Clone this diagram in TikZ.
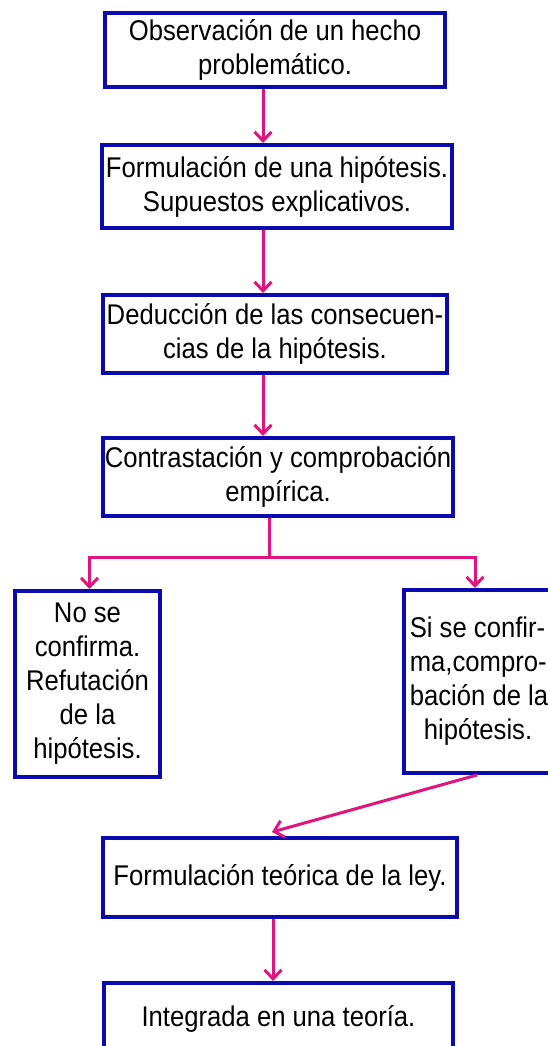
\documentclass[tikz,border=0pt]{standalone}
\usepackage{fontspec}
\setmainfont{Liberation Sans}[FakeStretch=0.9]
\usetikzlibrary{arrows.meta}
\definecolor{azulcaja}{RGB}{10,10,175}
\definecolor{rosa}{RGB}{225,20,125}
\begin{document}
\begin{tikzpicture}[x=1pt,y=-1pt,
	caja/.style={draw=azulcaja,line width=4pt,rectangle,inner sep=2pt,align=center,font=\fontsize{28.5}{34}\selectfont},
	flecha/.style={draw=rosa,line width=3pt,-{Straight Barb[length=9pt,width=17pt]}},
	linea/.style={draw=rosa,line width=3pt}]
	\useasboundingbox (0,0) rectangle (547,1046);
	\node[caja,minimum width=340pt,minimum height=74pt] (obs) at (275,50) {Observación de un hecho\\problemático.};
	\node[caja,minimum width=350pt,minimum height=83pt] (hip) at (277,186.5) {Formulación de una hipótesis.\\Supuestos explicativos.};
	\node[caja,minimum width=344pt,minimum height=78pt] (ded) at (275,334) {Deducción de las consecuen-\\cias de la hipótesis.};
	\node[caja,minimum width=350pt,minimum height=78pt] (con) at (278,477) {Contrastación y comprobación\\empírica.};
	\node[caja,minimum width=145pt,minimum height=186pt] (nocon) at (87.5,684) {No se\\confirma.\\Refutación\\de la\\hipótesis.};
	\node[caja,align=left,minimum width=150pt,minimum height=183pt] (sicon) at (479,681.5) {Si se confir-\\ma,compro-\\bación de la\\\hspace*{14pt}hipótesis.};
	\node[caja,minimum width=354pt,minimum height=79pt] (ley) at (280,877.5) {Formulación teórica de la ley.};
	\node[caja,minimum width=349pt,minimum height=72pt] (teo) at (278.5,1019) {Integrada en una teoría.};
	\draw[flecha] ([xshift=-12pt]obs.south) -- ([xshift=-12pt]obs.south |- hip.north);
	\draw[flecha] ([xshift=-14pt]hip.south) -- ([xshift=-14pt]hip.south |- ded.north);
	\draw[flecha] ([xshift=-12pt]ded.south) -- ([xshift=-12pt]ded.south |- con.north);
	\draw[linea] ([xshift=-9pt]con.south) -- ++(0,39) coordinate (rama);
	\draw[flecha] (rama) -| ([xshift=2pt]nocon.north);
	\draw[flecha] (rama) -| ([xshift=-4pt]sicon.north);
	\draw[flecha] ([xshift=-2pt]sicon.south) -- ([xshift=-8pt,yshift=4pt]ley.north);
	\draw[flecha] ([xshift=-7pt]ley.south) -- ([xshift=-7pt]ley.south |- teo.north);
\end{tikzpicture}
\end{document}
